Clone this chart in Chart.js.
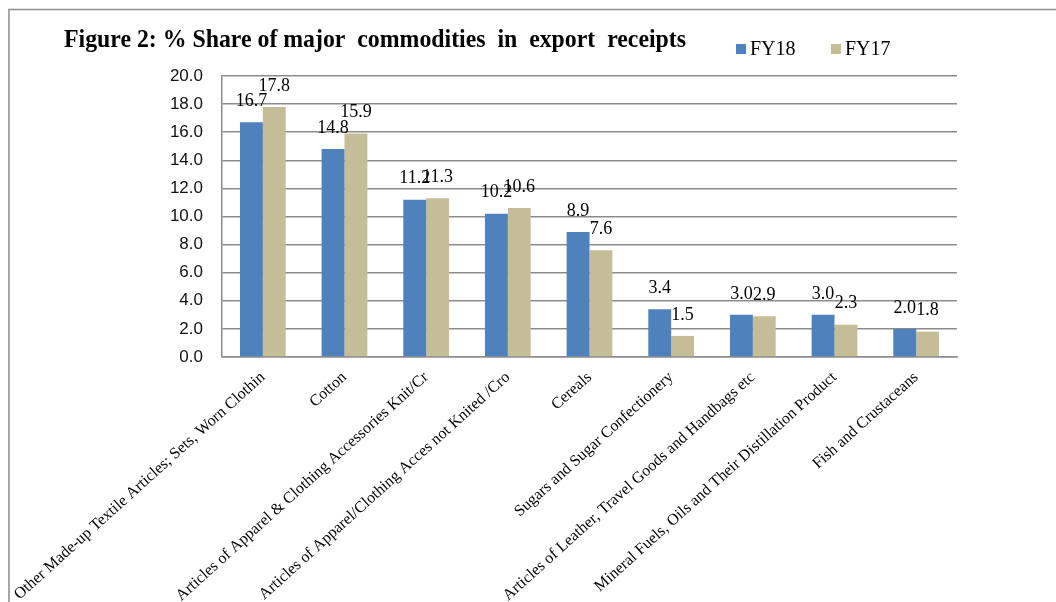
<!DOCTYPE html>
<html>
<head>
<meta charset="utf-8">
<script src="https://cdn.jsdelivr.net/npm/chart.js@4/dist/chart.umd.min.js"></script>
<style>
  html, body { margin: 0; padding: 0; background: #fff; }
  #wrap { width: 1056px; height: 602px; }
</style>
</head>
<body>
<div id="wrap"><canvas id="exportChart" width="1056" height="602"></canvas></div>
<script>
// data
const commodities = [
    'Other Made-up Textile Articles; Sets, Worn Clothin',
    'Cotton',
    'Articles of Apparel & Clothing Accessories Knit/Cr',
    'Articles of Apparel/Clothing Acces not Knited /Cro',
    'Cereals',
    'Sugars and Sugar Confectionery',
    'Articles of Leather, Travel Goods and Handbags etc',
    'Mineral Fuels, Oils and Their Distillation Product',
    'Fish and Crustaceans'
];
const fy18 = [16.7, 14.8, 11.2, 10.2, 8.9, 3.4, 3.0, 3.0, 2.0];
const fy17 = [17.8, 15.9, 11.3, 10.6, 7.6, 1.5, 2.9, 2.3, 1.8];
const yTicks = [0, 2, 4, 6, 8, 10, 12, 14, 16, 18, 20];

const titleText = 'Figure 2: % Share of major  commodities  in  export  receipts';
const serif = '"Liberation Serif", "Times New Roman", serif';

// frame, title, legend and value labels
const decorations = {
    id: 'decorations',
    beforeDraw(chart) {
        const ctx = chart.ctx;
        ctx.save();
        ctx.strokeStyle = '#8c8c8c';
        ctx.lineWidth = 1.5;
        ctx.beginPath();
        ctx.moveTo(9, 602);
        ctx.lineTo(9, 9.5);
        ctx.lineTo(1056, 9.5);
        ctx.stroke();
        ctx.restore();
    },
    afterDatasetsDraw(chart) {
        const ctx = chart.ctx;
        ctx.save();
        ctx.fillStyle = '#000';
        ctx.font = '18px ' + serif;
        ctx.textAlign = 'center';
        ctx.textBaseline = 'bottom';
        chart.data.datasets.forEach((ds, i) => {
            chart.getDatasetMeta(i).data.forEach((bar, j) => {
                ctx.fillText(ds.data[j].toFixed(1), bar.x, bar.y - 12);
            });
        });
        ctx.restore();
    },
    afterDraw(chart) {
        const ctx = chart.ctx;
        ctx.save();
        ctx.fillStyle = '#000';
        ctx.textBaseline = 'alphabetic';
        ctx.textAlign = 'left';
        ctx.font = 'bold 25px ' + serif;
        ctx.fillText(titleText, 64, 47, 622);

        // legend
        ctx.font = '20px ' + serif;
        ctx.textBaseline = 'middle';
        const legendX = [736, 831];
        chart.data.datasets.forEach((ds, i) => {
            ctx.fillStyle = ds.backgroundColor;
            ctx.fillRect(legendX[i], 44, 10, 10);
            ctx.fillStyle = '#000';
            ctx.fillText(ds.label, legendX[i] + 14, 50);
        });
        ctx.restore();
    }
};

const ctxExport = document.getElementById('exportChart').getContext('2d');
const exportChart = new Chart(ctxExport, {
    type: 'bar',
    data: {
        labels: commodities,
        datasets: [
            { label: 'FY18', data: fy18, backgroundColor: '#4F81BD' },
            { label: 'FY17', data: fy17, backgroundColor: '#C4BD97' }
        ]
    },
    options: {
        responsive: false,
        animation: false,
        devicePixelRatio: 1,
        layout: { autoPadding: false, padding: { top: 76, left: 0, right: 99, bottom: 0 } },
        datasets: { bar: { categoryPercentage: 0.56, barPercentage: 1.0 } },
        plugins: {
            legend: { display: false },
            title: { display: false },
            tooltip: { enabled: false }
        },
        scales: {
            x: {
                grid: { display: false, drawTicks: false },
                border: { color: '#8c8c8c', width: 1.5 },
                ticks: {
                    color: '#000',
                    font: { family: serif, size: 16 },
                    minRotation: 42,
                    maxRotation: 42,
                    autoSkip: false,
                    padding: 11
                },
                afterFit(scale) {
                    scale.height = 245;
                    scale.paddingLeft = 0;
                    scale.paddingRight = 0;
                }
            },
            y: {
                min: 0,
                max: 20,
                afterBuildTicks(scale) {
                    scale.ticks = yTicks.map(v => ({ value: v }));
                },
                grid: { color: '#8c8c8c', lineWidth: 1.5, drawTicks: false },
                border: { color: '#8c8c8c', width: 1.5 },
                ticks: {
                    color: '#111',
                    font: { family: '"Liberation Sans", Arial, sans-serif', size: 17 },
                    padding: 19,
                    callback: v => v.toFixed(1)
                },
                afterFit(scale) {
                    scale.width = 222;
                }
            }
        }
    },
    plugins: [decorations]
});
</script>
</body>
</html>
